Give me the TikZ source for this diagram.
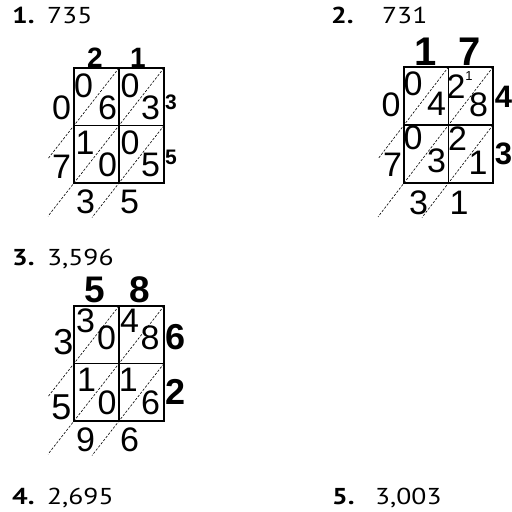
\documentclass[tikz,border=0pt]{standalone}
\usepackage{fontspec}
\setmainfont{Liberation Sans}
\newfontfamily\hdrfont[FakeStretch=1.2]{PT Sans}
\begin{document}
\begin{tikzpicture}[x=1pt,y=-1pt,
  dg/.style={font=\fontsize{34}{34}\selectfont, inner sep=0pt},
  dgb/.style={font=\fontsize{36}{36}\selectfont, inner sep=0pt},
  lb/.style={font=\fontsize{#1}{#1}\selectfont\bfseries, inner sep=0pt},
  hnum/.style={font=\hdrfont\bfseries\fontsize{23}{23}\selectfont, inner sep=0pt, anchor=base west},
  hval/.style={font=\hdrfont\fontsize{23}{23}\selectfont, inner sep=0pt, anchor=base west},
  grid/.style={line width=1.8pt},
  dl/.style={line width=0.6pt, dash pattern=on 2.4pt off 1.6pt}]
\useasboundingbox (0,0) rectangle (512,512);

% ---------- headers ----------
\node[hnum] (h1n) at (12,23) {1.};
\node[hval] (h1v) at (47,23) {735};
\node[hnum] (h2n) at (331,23) {2.};
\node[hval] (h2v) at (382,23) {731};
\node[hnum] (h3n) at (12,265) {3.};
\node[hval] (h3v) at (47,265) {3,596};
\node[hnum] (h4n) at (12,504) {4.};
\node[hval] (h4v) at (47,504) {2,695};
\node[hnum] (h5n) at (332,504) {5.};
\node[hval] (h5v) at (375,504) {3,003};

% ---------- problem 1 ----------
\coordinate (p1a1) at (119,68);   \coordinate (p1a2) at (48,158.7);
\coordinate (p1b1) at (164,68);   \coordinate (p1b2) at (48,216.2);
\coordinate (p1c1) at (164,125.5);\coordinate (p1c2) at (92,217.5);
\draw[dl] (p1a1) -- (p1a2);
\draw[dl] (p1b1) -- (p1b2);
\draw[dl] (p1c1) -- (p1c2);
\coordinate (p1tl) at (74,68); \coordinate (p1br) at (164,183);
\draw[grid] (p1tl) rectangle (p1br);
\draw[grid] (119,68) -- (119,183);
\draw[grid] (74,125.5) -- (164,125.5);
\node[lb=28] (p1t1) at (95,57.5) {2};
\node[lb=28] (p1t2) at (138,57.5) {1};
\node[dg] (p1l1) at (61.5,107.5) {0};
\node[dg] (p1l2) at (61.5,167) {7};
\node[lb=21] (p1r1) at (171,102.5) {3};
\node[lb=21] (p1r2) at (171,157.5) {5};
\node[dg] (p1u11) at (83.5,85.5) {0};
\node[dg] (p1d11) at (107.5,107.5) {6};
\node[dg] (p1u12) at (130,85.5) {0};
\node[dg] (p1d12) at (150.5,107.5) {3};
\node[dg] (p1u21) at (85,142.5) {1};
\node[dg] (p1d21) at (107.5,165) {0};
\node[dg] (p1u22) at (130,142.5) {0};
\node[dg] (p1d22) at (150.5,165) {5};
\node[dg] (p1b1n) at (85.5,201.5) {3};
\node[dg] (p1b2n) at (129.5,201.5) {5};

% ---------- problem 2 ----------
\coordinate (p2a1) at (448.5,67);  \coordinate (p2a2) at (378,158.9);
\coordinate (p2b1) at (493,67);    \coordinate (p2b2) at (378,216.9);
\coordinate (p2c1) at (493,125);   \coordinate (p2c2) at (422,217.5);
\draw[dl] (p2a1) -- (p2a2);
\draw[dl] (p2b1) -- (p2b2);
\draw[dl] (p2c1) -- (p2c2);
\coordinate (p2tl) at (404,67); \coordinate (p2br) at (493,183);
\draw[grid] (p2tl) rectangle (p2br);
\draw[grid] (448.5,67) -- (448.5,183);
\draw[grid] (404,125) -- (493,125);
\node[lb=40] (p2t1) at (426,51.5) {1};
\node[lb=40] (p2t2) at (470,51.5) {7};
\node[dg] (p2l1) at (391,105) {0};
\node[dg] (p2l2) at (392.5,165) {7};
\node[lb=31] (p2r1) at (503.5,96.5) {4};
\node[lb=31] (p2r2) at (503.5,153.5) {3};
\node[dg] (p2u11) at (413,83.5) {0};
\node[dg] (p2d11) at (436.5,103.5) {4};
\node[dg] (p2u12) at (456,86.5) {2};
\node[inner sep=0pt, font=\fontsize{13}{13}\selectfont] (p2s12) at (469,76.5) {1};
\node[dg] (p2d12) at (478.5,104.5) {8};
\node[dg] (p2u21) at (413,137.5) {0};
\node[dg] (p2d21) at (436.5,161) {3};
\node[dg] (p2u22) at (457.5,138.5) {2};
\node[dg] (p2d22) at (478,162.5) {1};
\node[dg] (p2b1n) at (418.5,203) {3};
\node[dg] (p2b2n) at (459,203) {1};

% ---------- problem 3 ----------
\coordinate (p3a1) at (119,306);   \coordinate (p3a2) at (48,396.7);
\coordinate (p3b1) at (164,306);   \coordinate (p3b2) at (48,454.2);
\coordinate (p3c1) at (164,363.5); \coordinate (p3c2) at (92,455.5);
\draw[dl] (p3a1) -- (p3a2);
\draw[dl] (p3b1) -- (p3b2);
\draw[dl] (p3c1) -- (p3c2);
\coordinate (p3tl) at (74,306); \coordinate (p3br) at (164,421);
\draw[grid] (p3tl) rectangle (p3br);
\draw[grid] (119,306) -- (119,421);
\draw[grid] (74,363.5) -- (164,363.5);
\node[lb=37] (p3t1) at (94.5,290) {5};
\node[lb=37] (p3t2) at (140,290) {8};
\node[dgb] (p3l1) at (63.5,342.5) {3};
\node[dgb] (p3l2) at (61.5,407) {5};
\node[lb=36] (p3r1) at (175.5,337.5) {6};
\node[lb=36] (p3r2) at (175.5,392) {2};
\node[dg] (p3u11) at (85.5,321) {3};
\node[dg] (p3d11) at (106.5,338) {0};
\node[dg] (p3u12) at (129.5,321) {4};
\node[dg] (p3d12) at (150,337.5) {8};
\node[dg] (p3u21) at (86.7,380) {1};
\node[dg] (p3d21) at (107,402.5) {0};
\node[dg] (p3u22) at (128.3,380) {1};
\node[dg] (p3d22) at (150.5,402.5) {6};
\node[dg] (p3b1n) at (85.5,440) {9};
\node[dg] (p3b2n) at (129.5,440) {6};
\end{tikzpicture}
\end{document}
